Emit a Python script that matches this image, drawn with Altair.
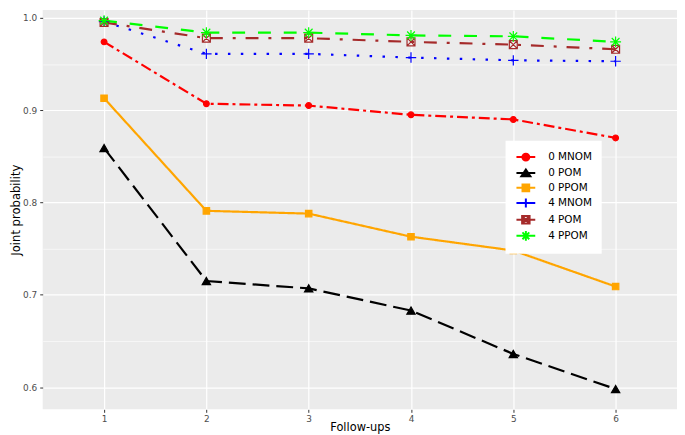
import altair as alt
import pandas as pd

# ---- data ----
follow_ups = [1, 2, 3, 4, 5, 6]
series_names = ["0 MNOM", "0 POM", "0 PPOM", "4 MNOM", "4 POM", "4 PPOM"]
mnom_0 = [0.974, 0.907, 0.905, 0.895, 0.890, 0.870]
pom_0 = [0.859, 0.715, 0.707, 0.683, 0.636, 0.598]
ppom_0 = [0.913, 0.791, 0.788, 0.763, 0.748, 0.709]
mnom_4 = [0.996, 0.961, 0.961, 0.957, 0.954, 0.953]
pom_4 = [0.995, 0.978, 0.978, 0.974, 0.971, 0.966]
ppom_4 = [0.997, 0.984, 0.984, 0.981, 0.980, 0.974]
y_ticks = [0.6, 0.65, 0.7, 0.75, 0.8, 0.85, 0.9, 0.95, 1.0]

series_values = [mnom_0, pom_0, ppom_0, mnom_4, pom_4, ppom_4]
rows = [
    {"series": s, "follow": x, "prob": v}
    for s, vals in zip(series_names, series_values)
    for x, v in zip(follow_ups, vals)
]
df = pd.DataFrame(rows)

# ---- styles ----
colors = ["#FF0000", "#000000", "#FFA500", "#0000FF", "#A52A2A", "#00FF00"]
fills = ["#FF0000", "#000000", "#FFA500", "transparent", "transparent", "transparent"]
dashes = [[11, 4, 3, 4], [17, 7], [1, 0], [2.5, 10.5], [13, 10, 3, 10], [13, 13]]
plus = "M-1,0H1M0,-1V1"
boxx = "M-1,-1H1V1H-1ZM-1,-1L1,1M-1,1L1,-1"
aster = "M-1,0H1M0,-1V1M-0.71,-0.71L0.71,0.71M-0.71,0.71L0.71,-0.71"
shapes = ["circle", "triangle-up", "square", plus, boxx, aster]
sizes = [34, 70, 42, 110, 64, 121]

# legend key glyphs: line segment + marker (units scaled by sqrt(symbolSize)/2 = 6.5px)
key_paths = [
    "M-1.46,0H1.46M-0.54,0A0.54,0.54,0,1,1,0.54,0A0.54,0.54,0,1,1,-0.54,0Z",
    "M-1.46,0H1.46M0,-0.52L0.7,0.52L-0.7,0.52Z",
    "M-1.46,0H1.46M-0.52,-0.52H0.52V0.52H-0.52Z",
    "M-1.46,0H1.46M0,-0.7V0.7",
    "M-1.46,0H1.46M-0.58,-0.58H0.58V0.58H-0.58ZM-0.58,-0.58L0.58,0.58M-0.58,0.58L0.58,-0.58",
    "M-1.46,0H1.46M0,-0.75V0.75M-0.53,-0.53L0.53,0.53M-0.53,0.53L0.53,-0.53",
]

legend = alt.Legend(
    title=None,
    orient="none",
    legendX=467,
    legendY=132,
    fillColor="white",
    padding=9,
    symbolSize=169,
    symbolOffset=4,
    labelOffset=15,
    rowPadding=-1.8,
    labelFontSize=10.5,
    labelFont="DejaVu Sans",
    labelColor="black",
    symbolStrokeWidth=2,
)

major_test = "abs(datum.value*10 - round(datum.value*10)) < 0.001"

x_enc = alt.X(
    "follow:Q",
    scale=alt.Scale(domain=[0.4, 6.6], nice=False, zero=False),
    axis=alt.Axis(
        values=follow_ups,
        format="d",
        title="Follow-ups",
        titleFontSize=11.5,
        tickSize=3,
        labelPadding=2,
        titlePadding=-2,
        gridColor="white",
        gridWidth=1.2,
    ),
)
y_enc = alt.Y(
    "prob:Q",
    scale=alt.Scale(domain=[0.576, 1.0086], nice=False, zero=False),
    axis=alt.Axis(
        values=y_ticks,
        labelExpr=f"{major_test} ? format(datum.value, '.1f') : ''",
        title="Joint probability",
        titleFont="Liberation Sans Narrow, DejaVu Sans Condensed, Liberation Sans",
        titleFontSize=13,
        titlePadding=0,
        tickSize=3,
        labelPadding=3,
        gridColor="white",
        gridWidth={"condition": {"test": major_test, "value": 1.2}, "value": 0.6},
        tickOpacity={"condition": {"test": major_test, "value": 1}, "value": 0},
    ),
)

# one line layer and one point layer per series (fixed style per series)
line_layers = []
point_layers = []
for name, col, fil, dsh, shp, sz in zip(series_names, colors, fills, dashes, shapes, sizes):
    base = alt.Chart(df).transform_filter(alt.datum.series == name)
    line_layers.append(
        base.mark_line(stroke=col, strokeDash=dsh, strokeWidth=2.2).encode(x=x_enc, y=y_enc)
    )
    point_layers.append(
        base.mark_point(shape=shp, size=sz, stroke=col, fill=fil, opacity=1, strokeWidth=1.2)
        .encode(x=x_enc, y=y_enc)
    )

# legend-only layer (no rows drawn) carrying the ggplot-style key glyphs
legend_layer = (
    alt.Chart(df)
    .transform_filter("false")
    .mark_point(opacity=1)
    .encode(
        x=x_enc,
        y=y_enc,
        stroke=alt.Stroke("series:N", scale=alt.Scale(domain=series_names, range=colors), legend=legend),
        fill=alt.Fill("series:N", scale=alt.Scale(domain=series_names, range=fills), legend=legend),
        shape=alt.Shape("series:N", scale=alt.Scale(domain=series_names, range=key_paths), legend=legend),
    )
)

chart = (
    alt.layer(*line_layers, *point_layers, legend_layer)
    .properties(
        width=640,
        height=403,
        autosize=alt.AutoSizeParams(type="none"),
        padding={"left": 35, "top": 0, "right": 0, "bottom": 30},
        background="white",
    )
    .configure_view(fill="#EBEBEB", stroke=None)
    .configure_axis(
        domain=False,
        tickColor="#333333",
        labelColor="#4D4D4D",
        labelFont="DejaVu Sans",
        labelFontSize=9,
        titleFont="DejaVu Sans",
        titleColor="black",
        titleFontWeight="normal",
    )
)

chart.save("out.html", embed_options={"renderer": "svg", "actions": False})
